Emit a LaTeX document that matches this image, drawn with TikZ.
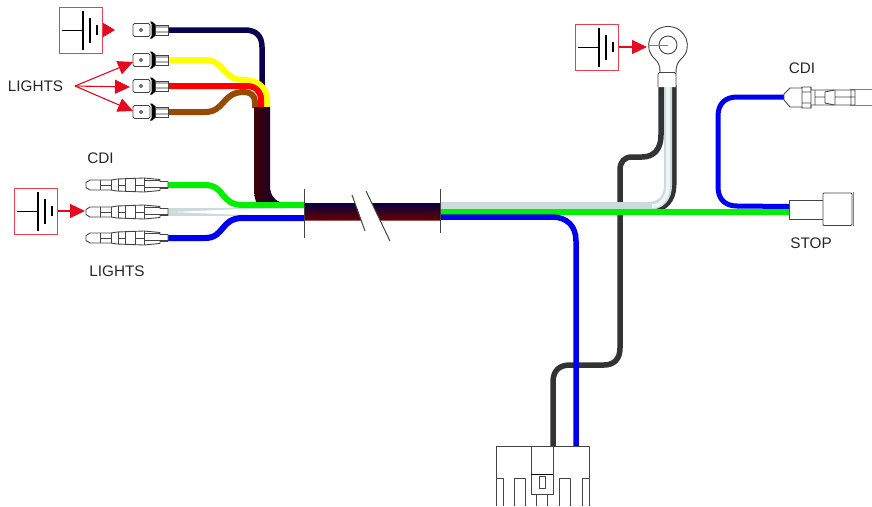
\documentclass[tikz,border=0pt]{standalone}
\usepackage{fontspec}
\setmainfont{Liberation Sans}
\usetikzlibrary{arrows.meta}
\definecolor{arrowred}{HTML}{E5081F}
\definecolor{boxred}{HTML}{E8404F}
\definecolor{navy}{HTML}{0A0050}
\definecolor{wyellow}{HTML}{FFFF00}
\definecolor{wred}{HTML}{FF0000}
\definecolor{wbrown}{HTML}{964B00}
\definecolor{wgreen}{HTML}{00F000}
\definecolor{wblue}{HTML}{0000F0}
\definecolor{wdark}{HTML}{333333}
\definecolor{wlight}{HTML}{CBDADC}
\definecolor{conn}{HTML}{444444}
\tikzset{
  x=1pt,y=-1pt,
  wire/.style={line width=#1,line cap=butt,line join=round},
  wire/.default=5.5pt,
  label text/.style={font=\fontsize{15.3}{18}\selectfont,text=black!85,inner sep=0pt},
  batbox/.style={draw=boxred,line width=1pt,fill=white,minimum width=43pt,minimum height=46pt,inner sep=0pt},
  batline/.style={black,line width=1.4pt},
  redarrow/.style={arrowred,line width=1.1pt,-{Triangle[length=#1,width=14pt]}},
  redarrow/.default=15pt,
  conline/.style={conn,line width=.9pt,line join=round},
  spade/.pic={
    \draw[conline,fill=white,rounded corners=1.5pt] (133,-6.5) rectangle (150,6.5);
    \draw[conline] (141,0) circle (1.6);
    \fill[black] (150,-8.5) -- (152,-8.5) -- (156,-5) -- (156,5) -- (152,8.5) -- (150,8.5) -- (151.5,6) -- (151.5,-6) -- cycle;
    \draw[conline,fill=white] (155,-5) rectangle (168,5);
    \fill[gray!60] (156,-5) rectangle (168,-2.5);
    \fill[gray!60] (156,1) rectangle (168,3);
    \draw[conline] (155,-5) rectangle (168,5);
  },
  bullet/.pic={
    \draw[conline,fill=white] (86,-2.5) -- (90,-5) -- (111,-5) -- (117,-6) -- (144,-7) -- (160,-5.5) -- (160,-3.5) -- (168,-3.5) -- (168,3.5) -- (160,3.5) -- (160,5.5) -- (144,7) -- (117,6) -- (111,5) -- (90,5) -- (86,2.5) -- cycle;
    \draw[conline] (100,-5) -- (100,5) (111,-5) -- (111,5) (118,-6) -- (118,6) (125,-6.5) -- (125,6.5) (135,-7) -- (135,7) (144,-7) -- (144,7);
    \draw[conline] (100,0) -- (111,0) (118,0) -- (125,0) (135,0) -- (144,0) (145,-5) -- (160,-5);
    \draw[conn,line width=.5pt] (145,2) -- (168,2);
  }
}
\newcommand{\batsym}[1]{%
  \draw[batline,line width=1pt] ([xshift=-18.5pt]#1.center) -- ([xshift=2.5pt]#1.center);
  \draw[batline] ([shift={(2.5,-19.5)}]#1.center) -- ([shift={(2.5,19.5)}]#1.center);
  \draw[batline] ([shift={(9.5,-12.5)}]#1.center) -- ([shift={(9.5,12.5)}]#1.center);
  \draw[batline] ([shift={(16.5,-5)}]#1.center) -- ([shift={(16.5,5)}]#1.center);
}
\begin{document}
\begin{tikzpicture}
\useasboundingbox (0,0) rectangle (872,506);
% named ends
\coordinate (tnavy) at (168,30);
\coordinate (tyel) at (168,60);
\coordinate (tred) at (168,86);
\coordinate (tbrown) at (168,112);
\coordinate (bgreen) at (168,185);
\coordinate (bwhite) at (168,212);
\coordinate (bblue) at (168,238);
\coordinate (hl) at (304,212);
\coordinate (hr) at (440,212);
\coordinate (cdir) at (784,97);
\coordinate (stopc) at (789,212);
\coordinate (ringl) at (661,85);
\coordinate (ringm) at (668,85);
\coordinate (ringr) at (674,85);
\coordinate (plugb) at (576,446);
\coordinate (plugd) at (553,446);
% wires upper left
\draw[wire=5.5pt,navy] (tnavy) -- (245,30) .. controls (256,30) and (262,36) .. (262,47) -- (262,108);
\draw[wire=6pt,wyellow] (tyel) -- (205,60) .. controls (225,60) and (222,80) .. (244,80) .. controls (258,80) and (267,88) .. (267,100) -- (267,108);
\draw[wire=6pt,wred] (tred) -- (247,86) .. controls (256,86) and (261,92) .. (261,100) -- (261,108);
\draw[wire=6pt,wbrown] (tbrown) -- (205,112) .. controls (225,112) and (222,92) .. (244,92) .. controls (251,92) and (255,96) .. (255,102) -- (255,108);
% vertical bundle
\shade[shading angle=90,left color=black!75!red,right color=black!70!blue]
  (254,107) -- (270,107) -- (270,186) .. controls (270,196) and (276,203) .. (286,203) -- (286,210) -- (259,210) .. controls (256,204) and (254,196) .. (254,186) -- cycle;
% lower-left wires
\draw[wire=6pt,wgreen] (bgreen) -- (205,185) .. controls (225,185) and (220,205) .. (243,205) -- (hl |- 0,205);
\draw[wire=8pt,wlight] (bwhite) -- (hl);
\fill[white] (172,212) -- (230,209.5) -- (304,208.5) -- (304,215.5) -- (230,214.5) -- cycle;
\draw[wire=6pt,wblue] (bblue) -- (205,238) .. controls (225,238) and (220,218) .. (243,218) -- (hl |- 0,218);
% right-hand dark wire and light wire
\draw[wire=5.5pt,wdark] (ringl) -- (661,135) .. controls (661,149) and (654,157) .. (642,157) -- (632,157) .. controls (624,157) and (620,162) .. (620,170) -- (620,348) .. controls (620,359) and (614,365) .. (604,365) -- (570,365) .. controls (559,365) and (553,371) .. (553,382) -- (plugd);
\draw[wire=5pt,wdark] (ringr) -- (674,185) .. controls (674,200) and (665,210) .. (652,210);
\draw[wire=8pt,wlight] (hr |- 0,206) -- (648,206) .. controls (661,206) and (668,198) .. (668,185) -- (ringm);
\draw[wire=4pt,white!70!wlight] (652,206) .. controls (661,206) and (668,198) .. (668,185) -- (ringm);
\draw[wire=5.5pt,wgreen] (hr) -- (stopc);
\draw[wire=5.5pt,wblue] (hr |- 0,217) -- (552,217) .. controls (567,217) and (576,226) .. (576,241) -- (plugb);
\draw[wire=5pt,wblue] (cdir) -- (737,97) .. controls (725,97) and (718,104) .. (718,116) -- (718,187) .. controls (718,199) and (725,206) .. (737,206) -- (stopc |- 0,206.5);
% central bundle
\shade[top color=navy!80!black,bottom color=black!60!red] (304,203) -- (355,203) -- (361.3,220.5) -- (304,220.5) -- cycle;
\shade[top color=navy!80!black,bottom color=black!60!red] (371.8,203) -- (440,203) -- (440,220.5) -- (380.2,220.5) -- cycle;
\draw[conn,line width=1pt] (hl |- 0,189) -- (hl |- 0,238);
\draw[conn,line width=1pt] (hr |- 0,189) -- (hr |- 0,233);
\draw[conn,line width=1pt] (352,195) -- (365,231);
\draw[conn,line width=1pt] (366,191) -- (390,241);
% spade terminals
\foreach \yy in {30,60,86,112} \pic at (0,\yy) {spade};
% bullet connectors
\foreach \yy in {185,212,238} \pic at (0,\yy) {bullet};
% ring terminal
\draw[conline,fill=white] (660,74) .. controls (660,66) and (659,63) .. (655,59) .. controls (642,48) and (650,26.5) .. (668,26.5) .. controls (686,26.5) and (694,48) .. (681,59) .. controls (677,63) and (676,66) .. (676,74) -- cycle;
\draw[conline] (668,45) circle (9);
\draw[gray,line width=.7pt] (648,45) -- (668,45);
\draw[conline,fill=white,rounded corners=1.5pt] (658,87) -- (658,72.5) -- (676,72.5) -- (676,87);
% right CDI connector
\draw[gray,line width=.9pt] (850,89) -- (872,89) (850,105) -- (872,105);
\draw[conline,fill=white] (784,94) -- (790,88) -- (802,88) -- (802,87) -- (811,87) -- (811,90) -- (835,90) -- (855,90) -- (855,105) -- (835,105) -- (811,105) -- (811,108) -- (802,108) -- (802,107) -- (790,107) -- (784,100) -- cycle;
\draw[conline] (802,87) -- (802,108) (811,87) -- (811,108) (802,92) -- (811,92) (802,103) -- (811,103) (815,90) -- (815,105) (825,92) -- (825,103) (835,90) -- (835,105) (835,97) -- (855,97) (815,97) -- (825,97) (825,92) -- (834,90) (825,103) -- (834,105) (851,90) -- (851,105);
% stop connector
\draw[conline,fill=white] (stopc |- 0,200) rectangle (823,219);
\draw[conline,fill=white,rounded corners=1pt] (823,193) rectangle (852,225.5);
\draw[gray,line width=1pt] (853.5,192) -- (853.5,226);
% plug
\draw[conline] (496,506) -- (496,446) -- (589,446) -- (589,506);
\draw[conline] (496,478) -- (503,478) -- (503,506) (514,506) -- (514,478) -- (525,478) -- (525,506) (559,506) -- (559,478) -- (570,478) -- (570,506) (582,506) -- (582,478) -- (589,478);
\draw[conline] (531,446) -- (531,494) -- (553,494) -- (553,446);
\draw[black,line width=1pt] (531,474) -- (553,474);
\draw[conline] (539,476) rectangle (545,488);
\draw[conline] (536,494) -- (536,506) (547,494) -- (547,506);
% battery symbols
\node[batbox] (batA) at (80.5,30) {};
\node[batbox] (batB) at (35.5,211) {};
\node[batbox] (batC) at (596.5,47) {};
\batsym{batA}\batsym{batB}\batsym{batC}
\coordinate (spadeA) at (115,30);
\coordinate (bulletW) at (85,211);
\coordinate (ringW) at (647,47);
\draw[redarrow=12pt] (batA.east) -- (spadeA);
\draw[redarrow] (batB.east) -- (bulletW);
\draw[redarrow] (batC.east) -- (ringW);
% labels
\node[label text] (lights1) at (35.5,86) {LIGHTS};
\node[label text] (cdi1) at (100.5,158) {CDI};
\node[label text] (lights2) at (117,271.5) {LIGHTS};
\node[label text] (cdi2) at (802,68.5) {CDI};
\node[label text] (stoplab) at (811,243.5) {STOP};
\coordinate (lfrom) at (75,86);
\coordinate (lA) at (133,62);
\coordinate (lB) at (130,87);
\coordinate (lC) at (133,111);
\draw[redarrow] (lfrom) -- (lA);
\draw[redarrow] (lfrom) -- (lB);
\draw[redarrow] (lfrom) -- (lC);
\end{tikzpicture}
\end{document}
